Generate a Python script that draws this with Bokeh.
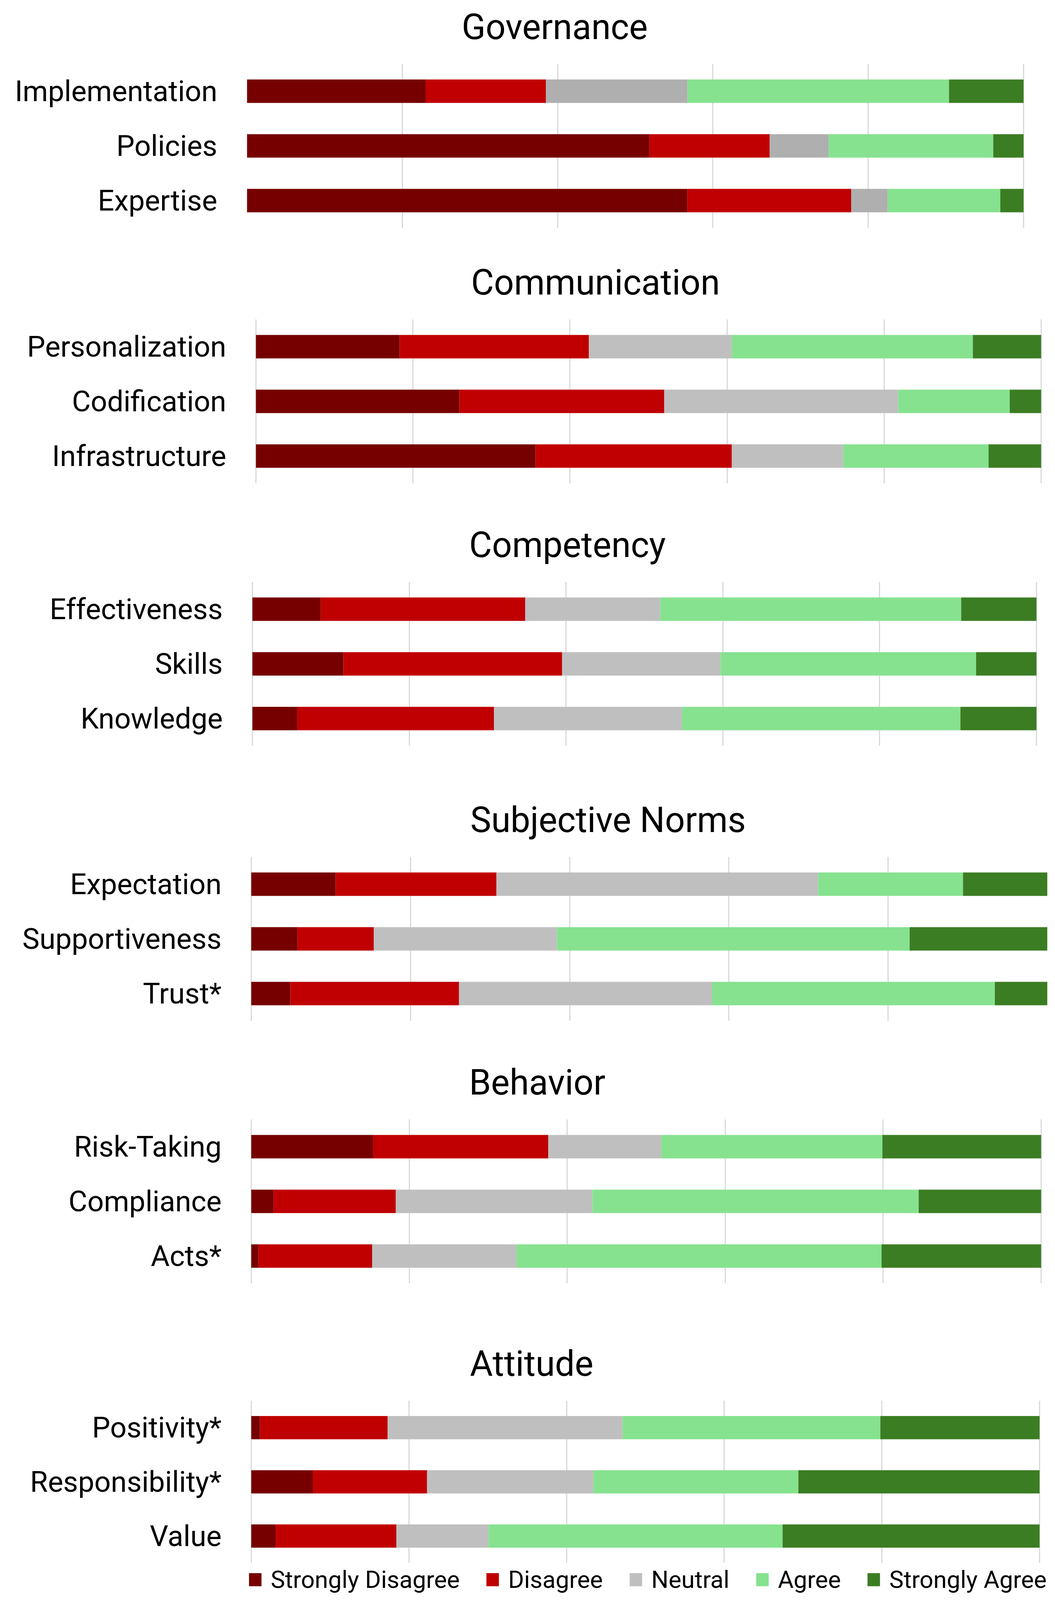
from bokeh.plotting import figure
from bokeh.models import (Range1d, FactorRange, FixedTicker, Legend, LegendItem,
                          ColumnDataSource)
from bokeh.layouts import column
from bokeh.embed import file_html
from bokeh.resources import INLINE

# ---------------- data (percent of respondents) ----------------
LEVELS = ["Strongly Disagree", "Disagree", "Neutral", "Agree", "Strongly Agree"]
X_TICKS = [0, 20, 40, 60, 80, 100]

governance_items = ["Implementation", "Policies", "Expertise"]
governance_sd = [23.0, 51.8, 56.7]
governance_d = [15.5, 15.5, 21.1]
governance_n = [18.2, 7.6, 4.7]
governance_a = [33.7, 21.2, 14.5]
governance_sa = [9.6, 3.9, 3.0]

communication_items = ["Personalization", "Codification", "Infrastructure"]
communication_sd = [18.3, 25.9, 35.6]
communication_d = [24.1, 26.1, 25.0]
communication_n = [18.2, 29.8, 14.2]
communication_a = [30.7, 14.2, 18.5]
communication_sa = [8.7, 4.0, 6.7]

competency_items = ["Effectiveness", "Skills", "Knowledge"]
competency_sd = [8.7, 11.6, 5.7]
competency_d = [26.1, 27.9, 25.1]
competency_n = [17.2, 20.2, 24.0]
competency_a = [38.4, 32.6, 35.5]
competency_sa = [9.6, 7.7, 9.7]

norms_items = ["Expectation", "Supportiveness", "Trust*"]
norms_sd = [10.6, 5.8, 4.9]
norms_d = [20.2, 9.6, 21.2]
norms_n = [40.4, 23.0, 31.8]
norms_a = [18.2, 44.3, 35.5]
norms_sa = [10.6, 17.3, 6.6]

behavior_items = ["Risk-Taking", "Compliance", "Acts*"]
behavior_sd = [15.4, 2.8, 0.9]
behavior_d = [22.2, 15.5, 14.4]
behavior_n = [14.3, 24.9, 18.3]
behavior_a = [28.0, 41.3, 46.2]
behavior_sa = [20.1, 15.5, 20.2]

attitude_items = ["Positivity*", "Responsibility*", "Value"]
attitude_sd = [1.1, 7.8, 3.1]
attitude_d = [16.2, 14.5, 15.3]
attitude_n = [29.8, 21.1, 11.7]
attitude_a = [32.7, 26.0, 37.3]
attitude_sa = [20.2, 30.6, 32.6]

# ---------------- styling / layout ----------------
FONT = "Roboto"
PAGE_W = 2686
ROW_PX = 140
FRAME_L, FRAME_R = 640, 2690          # common frame (absolute px)
C_SD, C_D, C_N, C_N_GOV, C_A, C_SA = "#760000", "#C00000", "#BFBFBF", "#AFAFAF", "#86E28F", "#3B7D23"
COLORS = [C_SD, C_D, C_N, C_A, C_SA]
STACK = ["sd", "d", "n", "a", "sa"]
COMMON = dict(output_backend="svg", toolbar_location=None,
              min_border_left=FRAME_L - 8, min_border_right=8 + PAGE_W - FRAME_R,
              outline_line_color=None, background_fill_color="white",
              border_fill_color="white")


def title_fig(title, top, frame_top, title_left):
    p = figure(width=PAGE_W, height=frame_top + 2 - top, x_range=Range1d(0, 1),
               y_range=Range1d(0, 1), min_border_top=frame_top - top,
               min_border_bottom=0, title=title, **COMMON)
    p.xaxis.visible = False
    p.yaxis.visible = False
    p.grid.visible = False
    p.title.text_font = FONT
    p.title.text_font_size = "90px"
    p.title.text_font_style = "normal"
    p.title.text_color = "black"
    p.title.align = "left"
    p.title.offset = title_left - FRAME_L
    p.title.standoff = 0
    return p


def section_fig(items, sd, d, n, a, sa, neutral, top, bottom, frame_top, frame_h,
                zero_px, hundred_px):
    s = (hundred_px - zero_px) / 100.0
    x0 = -(zero_px - FRAME_L) / s
    x1 = 100 + (FRAME_R - hundred_px) / s
    src = ColumnDataSource(dict(cat=items, sd=sd, d=d, n=n, a=a, sa=sa))
    p = figure(width=PAGE_W, height=bottom - top,
               y_range=FactorRange(factors=list(reversed(items))),
               x_range=Range1d(x0, x1),
               min_border_top=frame_top - top,
               min_border_bottom=bottom - (frame_top + frame_h), **COMMON)
    p.hbar_stack(STACK, y="cat", height=60 / ROW_PX,
                 color=[C_SD, C_D, neutral, C_A, C_SA], line_color=None, source=src)
    p.xaxis.visible = False
    p.xgrid.ticker = FixedTicker(ticks=X_TICKS)
    p.xgrid.grid_line_color = "#D9D9D9"
    p.xgrid.grid_line_width = 3
    p.ygrid.visible = False
    ax = p.yaxis[0]
    ax.axis_line_color = None
    ax.major_tick_line_color = None
    ax.minor_tick_line_color = None
    ax.major_tick_out = 0
    ax.major_tick_in = 0
    ax.major_label_standoff = 76 - (zero_px - FRAME_L)
    ax.major_label_text_font = FONT
    ax.major_label_text_font_size = "74px"
    ax.major_label_text_color = "black"
    return p, src


# (title, items, series..., neutral colour, frame top, 0% px, 100% px, title left px)
sections = [
    ("Governance", governance_items, governance_sd, governance_d, governance_n,
     governance_a, governance_sa, C_N_GOV, 171, 640, 2629, 1190),
    ("Communication", communication_items, communication_sd, communication_d,
     communication_n, communication_a, communication_sa, C_N, 825, 663, 2674, 1214),
    ("Competency", competency_items, competency_sd, competency_d, competency_n,
     competency_a, competency_sa, C_N, 1497, 654, 2662, 1209),
    ("Subjective Norms", norms_items, norms_sd, norms_d, norms_n, norms_a, norms_sa,
     C_N, 2201, 651, 2690, 1212),
    ("Behavior", behavior_items, behavior_sd, behavior_d, behavior_n, behavior_a,
     behavior_sa, C_N, 2873, 651, 2674, 1209),
    ("Attitude", attitude_items, attitude_sd, attitude_d, attitude_n, attitude_a,
     attitude_sa, C_N, 3593, 651, 2670, 1211),
]
TITLE_DROP = 42        # title-figure frame top sits this far above the section frame
TITLE_BORDER = 121     # space reserved for the title panel
LEGEND_TOP = 4009
PAGE_BOTTOM = 4093

figs = []
last_src = None
for k, sec in enumerate(sections):
    (title, items, sd, d, n, a, sa, neutral, ftop, zero_px, hundred_px, tleft) = sec
    t_frame = ftop - TITLE_DROP
    t_top = 8 if k == 0 else t_frame - TITLE_BORDER
    figs.append(title_fig(title, t_top, t_frame, tleft))
    s_top = t_frame + 2
    if k + 1 < len(sections):
        s_bottom = sections[k + 1][8] - TITLE_DROP - TITLE_BORDER
        fh = 3 * ROW_PX
    else:
        s_bottom = LEGEND_TOP
        fh = LEGEND_TOP - ftop
    f, last_src = section_fig(items, sd, d, n, a, sa, neutral, s_top, s_bottom, ftop, fh,
                              zero_px, hundred_px)
    figs.append(f)

# legend strip (swatches come from the Attitude series, not drawn here)
leg = figure(width=PAGE_W, height=PAGE_BOTTOM - LEGEND_TOP, x_range=Range1d(0, 100),
             y_range=FactorRange(factors=list(reversed(attitude_items))),
             min_border_top=0, min_border_bottom=0, **COMMON)
leg.xaxis.visible = False
leg.yaxis.visible = False
leg.grid.visible = False
swatches = leg.hbar_stack(STACK, y="cat", height=60 / ROW_PX, color=COLORS,
                          line_color=None, source=last_src, visible=False)
legend = Legend(items=[LegendItem(label=lab, renderers=[r]) for lab, r in zip(LEVELS, swatches)],
                orientation="horizontal", location="center", margin=0,
                glyph_width=40, glyph_height=42, label_standoff=20, spacing=64,
                padding=0, border_line_color=None, background_fill_alpha=0,
                inactive_fill_alpha=0,
                label_text_font=FONT, label_text_font_size="62px", label_text_color="black")
leg.add_layout(legend, "center")
figs.append(leg)

layout = column(*figs, spacing=0)
open("out.html", "w").write(file_html(layout, INLINE))
